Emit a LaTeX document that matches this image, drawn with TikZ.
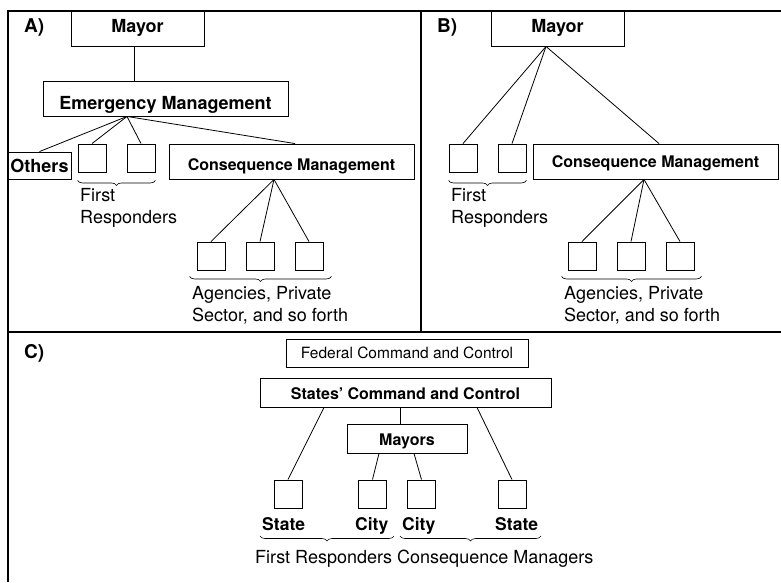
\documentclass[tikz,border=0pt]{standalone}
\usepackage{fontspec}
\setmainfont{TeX Gyre Heros}
\usetikzlibrary{decorations.pathreplacing}

\tikzset{
  box/.style={draw, rectangle, line width=0.9pt, inner sep=0pt, text depth=0pt},
  sq/.style={box, minimum width=28pt, minimum height=28pt},
  link/.style={line width=0.8pt},
  frameline/.style={line width=1.6pt},
  brc/.style={decorate, decoration={brace, amplitude=5pt, mirror}, line width=0.6pt},
  panel/.style={anchor=base west, inner sep=0pt, font=\fontsize{19}{22}\selectfont\bfseries},
  note/.style={anchor=base west, inner sep=0pt, align=left, font=\fontsize{18}{22}\selectfont},
  tag/.style={anchor=base west, inner sep=0pt, font=\fontsize{17.5}{21}\selectfont\bfseries},
  bigb/.style={font=\fontsize{18}{22}\selectfont\bfseries},
  midb/.style={font=\fontsize{16}{20}\selectfont\bfseries},
}

\begin{document}
\begin{tikzpicture}[x=1pt, y=-1pt]
\useasboundingbox (0,0) rectangle (781,582);

% frame of the three panels
\draw[frameline] (781,11) -- (8,11) -- (8,582);
\draw[frameline] (8,332) -- (781,332);
\draw[frameline] (421,11) -- (421,332);

% ---------------- panel A ----------------
\node[panel] (la) at (24,32) {A)};
\node[box, bigb, minimum width=133pt, minimum height=35pt, text height=7.6pt] (mayorA) at (137.5,28.5) {Mayor};
\node[box, bigb, minimum width=245pt, minimum height=35pt, text height=21pt] (emA) at (165.5,98.5) {Emergency Management};
\node[box, bigb, minimum width=63pt, minimum height=27pt, text height=13.6pt] (othersA) at (39.5,165.5) {Others};
\node[sq] (frA1) at (92,158) {};
\node[sq] (frA2) at (141,158) {};
\node[box, midb, minimum width=245pt, minimum height=35pt, text height=18.4pt] (cmA) at (291.5,161.5) {Consequence Management};
\node[sq] (agA1) at (211,256) {};
\node[sq] (agA2) at (260,256) {};
\node[sq] (agA3) at (309,256) {};

\coordinate (emAfan) at ([xshift=-38.5pt]emA.south);
\coordinate (cmAfan) at ([xshift=-17.5pt]cmA.south);
\draw[link] ([xshift=-3.5pt]mayorA.south) -- ([xshift=-3.5pt]mayorA.south |- emA.north);
\draw[link] (emAfan) -- (othersA.north);
\draw[link] (emAfan) -- (frA1.north);
\draw[link] (emAfan) -- (frA2.north);
\draw[link] (emAfan) -- ([xshift=3.5pt]cmA.north);
\draw[link] (cmAfan) -- (agA1.north);
\draw[link] (cmAfan) -- (agA2.north);
\draw[link] (cmAfan) -- (agA3.north);

\draw[brc] ([yshift=-8pt]frA1.south west) -- ([yshift=-8pt]frA2.south east);
\node[note] (frtA) at (80,223) {First\\Responders};
\draw[brc] ([xshift=-7pt,yshift=-6pt]agA1.south west) -- ([xshift=8pt,yshift=-6pt]agA3.south east);
\node[note] (agtA) at (192,321.7) {Agencies, Private\\Sector, and so forth};

% ---------------- panel B ----------------
\node[panel] (lb) at (437,32) {B)};
\node[box, bigb, minimum width=133pt, minimum height=35pt, text height=7.6pt] (mayorB) at (557.5,28.5) {Mayor};
\node[sq] (frB1) at (463,158) {};
\node[sq] (frB2) at (512,158) {};
\node[box, midb, minimum width=245pt, minimum height=35pt, text height=12.4pt] (cmB) at (655.5,161.5) {Consequence Management};
\node[sq] (agB1) at (582,256) {};
\node[sq] (agB2) at (631,256) {};
\node[sq] (agB3) at (680,256) {};

\coordinate (mayorBfan) at ([xshift=-11.5pt]mayorB.south);
\coordinate (cmBfan) at ([xshift=-11.5pt]cmB.south);
\draw[link] (mayorBfan) -- (frB1.north);
\draw[link] (mayorBfan) -- (frB2.north);
\draw[link] (mayorBfan) -- ([xshift=3.5pt]cmB.north);
\draw[link] (cmBfan) -- (agB1.north);
\draw[link] (cmBfan) -- (agB2.north);
\draw[link] (cmBfan) -- (agB3.north);

\draw[brc] ([yshift=-8pt]frB1.south west) -- ([yshift=-8pt]frB2.south east);
\node[note] (frtB) at (451,223) {First\\Responders};
\draw[brc] ([xshift=-6pt,yshift=-6pt]agB1.south west) -- ([xshift=7pt,yshift=-6pt]agB3.south east);
\node[note] (agtB) at (564,321.7) {Agencies, Private\\Sector, and so forth};

% ---------------- panel C ----------------
\node[panel] (lc) at (24,358) {C)};
\node[box, font=\fontsize{15.5}{19}\selectfont, minimum width=242pt, minimum height=28pt, text height=10.6pt] (federal) at (407,353) {Federal Command and Control};
\node[box, midb, minimum width=291pt, minimum height=29pt, text height=13.6pt] (states) at (405.5,392.5) {States’ Command and Control};
\node[box, midb, minimum width=120pt, minimum height=29pt, text height=13pt] (mayors) at (407,438.5) {Mayors};
\node[sq] (st1) at (288,494) {};
\node[sq] (ci1) at (372.5,494) {};
\node[sq] (ci2) at (421.5,494) {};
\node[sq] (st2) at (512,494) {};

\draw[link] ([xshift=-81.5pt]states.south) -- (st1.north);
\draw[link] ([xshift=-5.5pt]states.south) -- ([xshift=-5.5pt]states.south |- mayors.north);
\draw[link] ([xshift=71.5pt]states.south) -- (st2.north);
\draw[link] ([xshift=-28pt]mayors.south) -- (ci1.north);
\draw[link] ([xshift=7pt]mayors.south) -- (ci2.north);

\node[tag] (tst1) at (262,530) {State};
\node[tag] (tci1) at (355,530) {City};
\node[tag] (tci2) at (402,530) {City};
\node[tag] (tst2) at (495,530) {State};
\coordinate (brc1a) at (260,536);
\coordinate (brc1b) at (394,536);
\coordinate (brc2a) at (400,536);
\coordinate (brc2b) at (541,536);
\draw[brc] (brc1a) -- (brc1b);
\draw[brc] (brc2a) -- (brc2b);
\node[note] (roles) at (255,563) {First Responders Consequence Managers};

\end{tikzpicture}
\end{document}
